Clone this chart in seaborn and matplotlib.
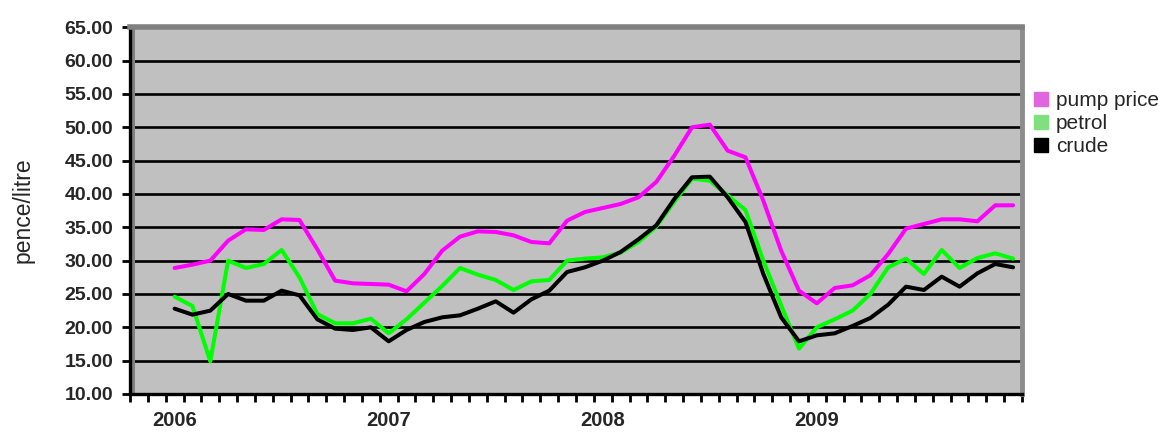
import numpy as np
import pandas as pd
import matplotlib
matplotlib.use("Agg")
import matplotlib.pyplot as plt
import seaborn as sns
from matplotlib.lines import Line2D
from matplotlib.patches import Rectangle

# ---------------- data (monthly, Jan 2006 - Dec 2009) ----------------
year_labels = ["2006", "2007", "2008", "2009"]
series_names = ["pump price", "petrol", "crude"]

pump_price = [28.9, 29.4, 30.0, 33.0, 34.7, 34.6, 36.2, 36.1, 31.7, 27.0, 26.6, 26.5,
              26.4, 25.4, 28.0, 31.5, 33.6, 34.4, 34.3, 33.8, 32.8, 32.6, 36.0, 37.3,
              37.9, 38.5, 39.5, 41.8, 45.7, 50.0, 50.4, 46.5, 45.5, 39.0, 31.5, 25.5,
              23.6, 25.9, 26.3, 27.8, 31.0, 34.8, 35.5, 36.2, 36.2, 35.9, 38.3, 38.3]

petrol = [24.6, 23.2, 14.9, 30.0, 28.9, 29.5, 31.6, 27.5, 22.0, 20.6, 20.6, 21.3,
          19.1, 21.2, 23.7, 26.2, 28.9, 27.9, 27.1, 25.6, 26.9, 27.1, 30.0, 30.3,
          30.5, 31.2, 32.8, 35.1, 38.8, 42.3, 42.0, 39.8, 37.6, 30.0, 23.3, 16.8,
          20.0, 21.2, 22.5, 25.0, 29.0, 30.3, 28.0, 31.6, 28.9, 30.4, 31.1, 30.3]

crude = [22.8, 21.9, 22.5, 25.0, 24.0, 24.0, 25.5, 24.8, 21.2, 19.8, 19.6, 20.0,
         17.9, 19.6, 20.8, 21.5, 21.8, 22.8, 23.9, 22.2, 24.2, 25.5, 28.3, 29.0,
         30.0, 31.3, 33.2, 35.3, 39.2, 42.5, 42.6, 39.5, 35.8, 28.0, 21.5, 17.9,
         18.8, 19.1, 20.2, 21.4, 23.4, 26.1, 25.6, 27.6, 26.1, 28.1, 29.5, 29.0]

y_ticks = [10, 15, 20, 25, 30, 35, 40, 45, 50, 55, 60, 65]

# ---------------- styles ----------------
line_colors = ["#FF00FF", "#00FF00", "#000000"]
legend_colors = ["#E066E0", "#80E080", "#000000"]

n = len(pump_price)
df = pd.DataFrame({
    "month": np.tile(np.arange(n), 3),
    "value": pump_price + petrol + crude,
    "series": np.repeat(series_names, n),
})

sns.set_style("white")
plt.rcParams["font.family"] = ["Liberation Sans", "DejaVu Sans"]

W, H = 1174, 437
fig = plt.figure(figsize=(W / 100, H / 100), dpi=100)
fig.patch.set_facecolor("white")
left_px, right_px, top_px, bot_px = 130, 1022, 27.3, 394
ax = fig.add_axes([left_px / W, 1 - bot_px / H, (right_px - left_px) / W, (bot_px - top_px) / H])
ax.set_facecolor("#C0C0C0")

sns.lineplot(data=df, x="month", y="value", hue="series", hue_order=series_names,
             palette=dict(zip(series_names, line_colors)), linewidth=2.9,
             ax=ax, legend=False, zorder=3)

ax.set_xlim(-2.5, n - 0.5)
ax.set_ylim(10, 65)

# y axis
ax.set_yticks(y_ticks)
ax.set_yticklabels([f"{v:.2f}" for v in y_ticks], fontsize=14, fontweight="bold")
ax.tick_params(axis="y", direction="out", length=6, width=2, color="black", pad=6, left=True)

# x axis: year labels at January positions, tick marks at month boundaries
ax.set_xticks([12 * i for i in range(len(year_labels))])
ax.set_xticklabels(year_labels, fontsize=14.5, fontweight="bold")
ax.tick_params(axis="x", which="major", length=0, pad=12)
ax.set_xticks(np.arange(-2.5, n, 1.0), minor=True)
ax.tick_params(axis="x", which="minor", direction="out", length=6, width=2, color="black", bottom=True)

ax.set_xlabel("")
ax.set_ylabel("pence/litre", fontsize=16.5)
ax.yaxis.set_label_coords((35 - left_px) / (right_px - left_px), 0.5)

# grid
ax.set_axisbelow(True)
ax.yaxis.grid(True, color="black", linewidth=1.9)
ax.xaxis.grid(False)

# spines / 3D-like frame
for s in ["left", "bottom"]:
    ax.spines[s].set_color("black")
    ax.spines[s].set_linewidth(2.4)
ax.spines["top"].set_color("#808080")
ax.spines["top"].set_linewidth(4)
ax.spines["right"].set_color("#8C8C8C")
ax.spines["right"].set_linewidth(3.5)
ax.add_patch(Rectangle((0.0, 0.0), 4.5 / (right_px - left_px), 1.0, transform=ax.transAxes,
                       facecolor="#808080", edgecolor="none", zorder=2))

# legend
handles = [Line2D([0], [0], marker="s", linestyle="none", markersize=10.5,
                  markerfacecolor=c, markeredgecolor=c) for c in legend_colors]
fig.legend(handles, series_names, loc="upper left",
           bbox_to_anchor=(1033 / W, 1 - 91 / H), frameon=False,
           fontsize=15, handlelength=0.8, handletextpad=0.3,
           labelspacing=0.2, borderpad=0, borderaxespad=0)

fig.savefig("out.png", dpi=100)
